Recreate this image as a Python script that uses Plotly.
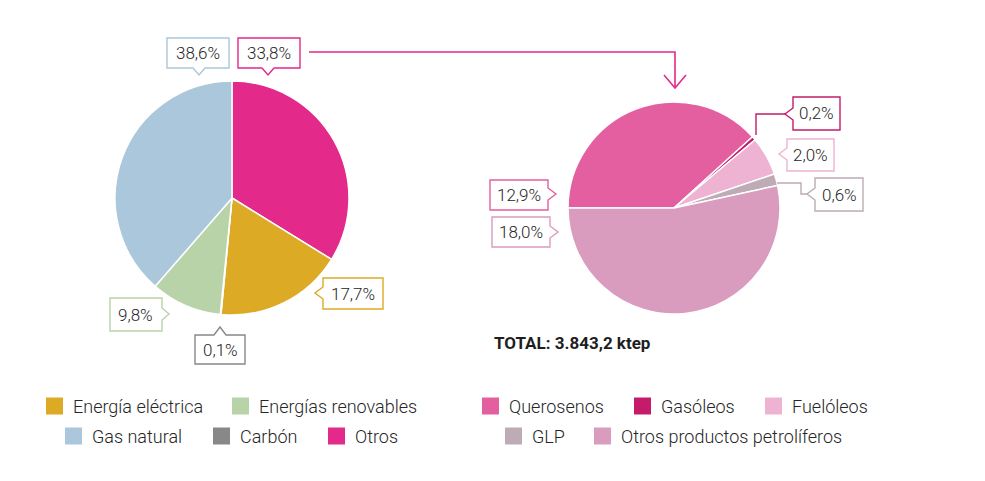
import plotly.graph_objects as go

# page body has an 8px margin, so the figure is 16px smaller than the window
W, H = 969, 465
OFF = 8

# ---------------- data ----------------
left_labels = ["Otros", "Energía eléctrica", "Carbón", "Energías renovables", "Gas natural"]
left_values = [33.8, 17.7, 0.1, 9.8, 38.6]
left_colors = ["#e3298a", "#dcaa24", "#888888", "#b9d3a9", "#aac7dc"]

right_labels = ["Querosenos", "Gasóleos", "Fuelóleos", "GLP", "Otros productos petrolíferos"]
right_values = [12.9, 0.2, 2.0, 0.6, 18.0]
right_colors = ["#e35fa0", "#c41c6b", "#eeb3d3", "#bdabb5", "#da9cbe"]

left_legend_rows = [["Energía eléctrica", "Energías renovables"], ["Gas natural", "Carbón", "Otros"]]
right_legend_rows = [["Querosenos", "Gasóleos", "Fuelóleos"], ["GLP", "Otros productos petrolíferos"]]

total_text = "TOTAL: 3.843,2 ktep"

# ---------------- layout helpers (window pixel -> paper) ----------------
def fx(x):
    return (x - OFF) / W


def fy(y):
    return 1 - (y - OFF) / H


def path(points, close=False):
    s = "M " + " L ".join(f"{fx(x):.5f},{fy(y):.5f}" for x, y in points)
    return s + (" Z" if close else "")


LEG_FONT = dict(family="Roboto", size=18, color="#262626", weight=300)
LBL_FONT = dict(family="Roboto", size=17, color="#262626", weight=300)

fig = go.Figure()

fig.add_trace(go.Pie(
    labels=left_labels, values=left_values, sort=False, direction="clockwise", rotation=0,
    marker=dict(colors=left_colors, line=dict(color="white", width=1.5)),
    textinfo="none", hoverinfo="label+value", showlegend=False,
    domain=dict(x=[fx(115), fx(349)], y=[fy(315), fy(81)]),
))
fig.add_trace(go.Pie(
    labels=right_labels, values=right_values, sort=False, direction="clockwise", rotation=270,
    marker=dict(colors=right_colors, line=dict(color="white", width=1.5)),
    textinfo="none", hoverinfo="label+value", showlegend=False,
    domain=dict(x=[fx(568), fx(780)], y=[fy(314), fy(102)]),
))

shapes = []
annotations = []

# callout boxes: (x0, y0, x1, y1, side, tail position, tip)
callouts = {
    "Gas natural": (167, 38, 229, 68, "bottom", 199, 75),
    "Otros": (238, 38, 300, 68, "bottom", 268, 75),
    "Energía eléctrica": (323, 278, 383, 309, "left", 293, 315),
    "Energías renovables": (110, 298, 162, 331, "right", 314, 169),
    "Carbón": (195, 335, 245, 364, "top", 220, 327),
    "Gasóleos": (793, 97, 840, 130, "left", 114, 785),
    "Fuelóleos": (787, 139, 834, 171, "left", 154, 779),
    "GLP": (815, 178, 863, 211, "left", 194, 807),
    "Querosenos": (490, 180, 548, 210, "right", 194, 556),
    "Otros productos petrolíferos": (492, 217, 550, 247, "right", 232, 558),
}

values_all = dict(zip(left_labels, left_values))
values_all.update(dict(zip(right_labels, right_values)))
colors_all = dict(zip(left_labels, left_colors))
colors_all.update(dict(zip(right_labels, right_colors)))

HW = 6
for name, (x0, y0, x1, y1, side, t, tip) in callouts.items():
    pts = [(x0, y0)]
    if side == "top":
        pts += [(t - HW, y0), (t, tip), (t + HW, y0)]
    pts += [(x1, y0)]
    if side == "right":
        pts += [(x1, t - HW), (tip, t), (x1, t + HW)]
    pts += [(x1, y1)]
    if side == "bottom":
        pts += [(t + HW, y1), (t, tip), (t - HW, y1)]
    pts += [(x0, y1)]
    if side == "left":
        pts += [(x0, t + HW), (tip, t), (x0, t - HW)]
    col = colors_all[name]
    shapes.append(dict(type="path", xref="paper", yref="paper", path=path(pts, close=True),
                       fillcolor="white", line=dict(color=col, width=1.4), layer="above"))
    label = f"{values_all[name]:.1f}".replace(".", ",") + "%"
    annotations.append(dict(x=fx((x0 + x1) / 2), y=fy((y0 + y1) / 2), xref="paper", yref="paper",
                            text=label, showarrow=False, font=LBL_FONT, xanchor="center", yanchor="middle"))

# connector lines
shapes.append(dict(type="path", xref="paper", yref="paper",
                   path=path([(756, 135), (756, 114), (785, 114)]),
                   line=dict(color=colors_all["Gasóleos"], width=1.4), layer="above"))
shapes.append(dict(type="path", xref="paper", yref="paper",
                   path=path([(777, 183), (801, 183), (801, 194), (807, 194)]),
                   line=dict(color=colors_all["GLP"], width=1.4), layer="above"))

# arrow from the "Otros" slice to the breakdown pie
arrow_col = colors_all["Otros"]
shapes.append(dict(type="path", xref="paper", yref="paper",
                   path=path([(309, 52), (675, 52), (675, 88)]),
                   line=dict(color=arrow_col, width=1.6), layer="above"))
shapes.append(dict(type="path", xref="paper", yref="paper",
                   path=path([(664, 75), (675, 88), (686, 75)]),
                   line=dict(color=arrow_col, width=1.6), layer="above"))

# total
annotations.append(dict(x=fx(492), y=fy(343), xref="paper", yref="paper", text=f"<b>{total_text}</b>",
                        showarrow=False, xanchor="left", yanchor="middle",
                        font=dict(family="Roboto", size=17, color="#1e1e1e")))

# legends (square + text)
legend_positions = {
    "Energía eléctrica": (46, 406), "Energías renovables": (232, 406),
    "Gas natural": (65, 436), "Carbón": (213, 436), "Otros": (328, 436),
    "Querosenos": (482, 406), "Gasóleos": (634, 406), "Fuelóleos": (765, 406),
    "GLP": (505, 436), "Otros productos petrolíferos": (594, 436),
}
SQ = 17
for rows in (left_legend_rows, right_legend_rows):
    for row in rows:
        for name in row:
            x, yc = legend_positions[name]
            shapes.append(dict(type="rect", xref="paper", yref="paper",
                               x0=fx(x), x1=fx(x + SQ), y0=fy(yc + SQ / 2), y1=fy(yc - SQ / 2),
                               fillcolor=colors_all[name], line=dict(width=0), layer="above"))
            annotations.append(dict(x=fx(x + SQ + 8), y=fy(yc), xref="paper", yref="paper",
                                    text=name, showarrow=False, xanchor="left", yanchor="middle",
                                    font=LEG_FONT))

fig.update_layout(
    width=W, height=H,
    margin=dict(l=0, r=0, t=0, b=0),
    paper_bgcolor="white", plot_bgcolor="white",
    shapes=shapes, annotations=annotations,
    showlegend=False,
)

fig.write_html("out.html")
